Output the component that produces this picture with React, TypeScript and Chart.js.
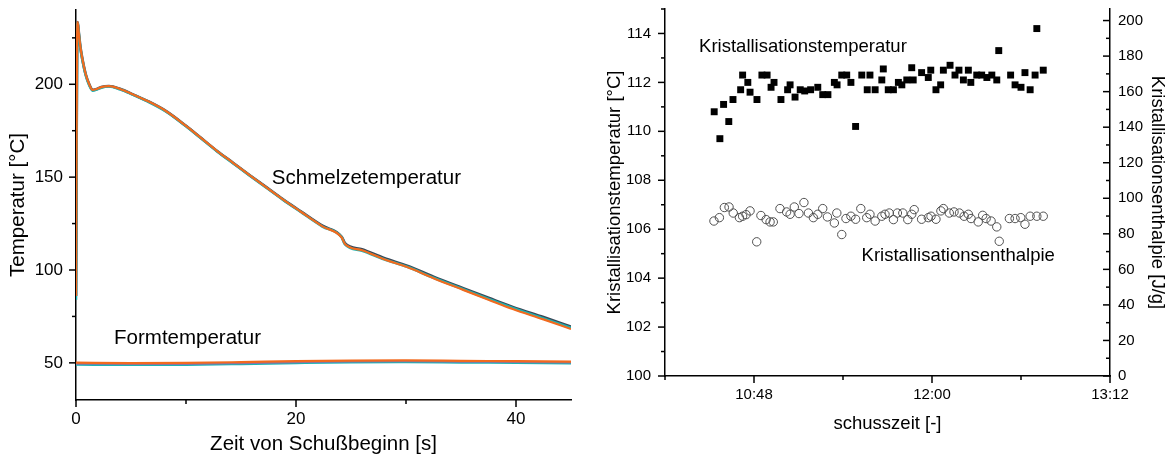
import React, { useEffect, useRef } from 'react';
import { Chart, registerables } from 'chart.js';

Chart.register(...registerables);

const FONT = '"Liberation Sans", Arial, Helvetica, sans-serif';

// ---------- Left chart: temperature curves ----------
const meltTimes = [0, 0.04, 0.1, 0.15, 0.25, 0.4, 0.6, 0.9, 1.2, 1.5, 1.8, 2.3, 3.0, 4.0, 5.2, 6.5, 8.2, 10.0, 11.3, 12.8, 14.3, 15.8, 17.3, 18.8, 20.4, 22.4, 24.15, 24.45, 26, 28, 30.1, 32.5, 35.2, 37.5, 39.7, 42.5, 45];
const meltOrange = [86, 150, 225, 233.5, 228, 220, 213, 205, 200, 197, 197.3, 198.5, 199, 197.5, 194.5, 191, 185.5, 177.6, 171.4, 164.2, 157.6, 151, 144.5, 138, 131.5, 123.5, 117.5, 114, 110.6, 105.8, 101.6, 95.6, 89.3, 84, 79, 73.4, 68.2];
const meltDark = [86, 150, 225, 233.5, 228, 220, 213, 205, 200, 197, 197.3, 198.5, 199, 197.5, 194.5, 191, 185.5, 177.6, 171.4, 164.2, 157.6, 151, 144.6, 138.1, 131.7, 123.8, 117.9, 114.4, 111.1, 106.4, 102.3, 96.4, 90.2, 85, 80.1, 74.6, 69.5];
const meltTeal = [84, 148, 224, 233, 227.5, 219.5, 212.5, 204.5, 199.5, 196.6, 197, 198.2, 198.8, 197.3, 194.3, 190.8, 185.3, 177.4, 171.2, 164.0, 157.4, 150.8, 144.3, 137.9, 131.4, 123.4, 117.6, 113.8, 110.4, 105.8, 101.7, 95.8, 89.6, 84.4, 79.5, 73.9, 68.8];

const formTimes = [0, 5, 10, 15, 20, 25, 30, 35, 40, 45];
const formOrange = [50.1, 49.9, 50.0, 50.4, 50.9, 51.2, 51.3, 51.1, 50.9, 50.7];
const formPurple = [49.6, 49.4, 49.5, 49.9, 50.4, 50.8, 50.9, 50.7, 50.5, 50.3];
const formTeal = [49.1, 48.9, 49.0, 49.4, 49.9, 50.3, 50.4, 50.2, 50.0, 49.8];

const leftXMajor = [0, 20, 40];
const leftXMinor = [10, 30];
const leftYMajor = [50, 100, 150, 200];
const leftYMinor = [75, 125, 175, 225];

const leftLabelTexts = ['Schmelzetemperatur', 'Formtemperatur'];
const leftLabelX = [26.4, 10.14];
const leftLabelY = [146.2, 60.2];

// ---------- Right chart: crystallisation per shot ----------
// shot times in minutes after midnight
const tempShotMin = [631.9, 634.2, 635.7, 637.8, 639.5, 642.6, 643.4, 645.5, 646.4, 649.2, 651.2, 653.3, 654.9, 656.1, 658.9, 661.6, 662.6, 664.6, 666.7, 668.5, 670.9, 673.8, 675.8, 677.9, 680.5, 681.6, 683.5, 685.5, 687.2, 689.1, 691.6, 693.8, 694.9, 697.0, 699.7, 700.3, 702.3, 704.4, 706.4, 707.8, 709.8, 711.8, 712.4, 715.8, 718.5, 719.5, 721.6, 723.5, 724.6, 727.3, 729.3, 730.9, 732.7, 734.7, 735.7, 738.1, 740.1, 742.2, 744.2, 746.2, 747.0, 751.8, 753.6, 756.0, 757.6, 759.7, 761.7, 762.4, 765.0];
const crystTemp = [110.8, 109.7, 111.1, 110.4, 111.3, 111.7, 112.3, 112.0, 111.6, 111.3, 112.3, 112.3, 111.8, 112.0, 111.3, 111.7, 111.9, 111.4, 111.7, 111.65, 111.7, 111.8, 111.5, 111.5, 112.0, 111.9, 112.3, 112.3, 112.0, 110.2, 112.3, 111.7, 112.3, 111.7, 112.1, 112.55, 111.7, 111.7, 112.0, 111.9, 112.1, 112.6, 112.1, 112.4, 112.2, 112.5, 111.7, 111.9, 112.5, 112.7, 112.3, 112.5, 112.1, 112.5, 112.0, 112.3, 112.3, 112.2, 112.3, 112.1, 113.3, 112.3, 111.9, 111.8, 112.4, 111.7, 112.3, 114.2, 112.5];

const enthShotMin = [631.8, 634.0, 636.0, 637.9, 639.6, 642.1, 643.4, 644.8, 646.4, 649.1, 650.8, 652.9, 654.5, 655.8, 658.5, 661.2, 662.6, 664.3, 666.2, 668.2, 670.0, 672.0, 673.8, 675.8, 677.7, 680.5, 681.5, 683.5, 685.2, 687.2, 689.1, 691.2, 693.6, 694.9, 697.0, 699.7, 701.0, 702.7, 704.4, 706.0, 708.2, 710.2, 711.8, 712.8, 715.8, 718.5, 719.6, 721.6, 723.6, 724.6, 727.0, 728.9, 731.1, 733.0, 734.7, 735.8, 738.7, 740.5, 741.9, 743.9, 746.2, 747.2, 751.3, 753.6, 755.9, 757.6, 759.7, 762.4, 765.0];
const crystEnth = [87.2, 89.1, 94.8, 95.1, 91.7, 89.1, 89.9, 90.8, 92.9, 75.5, 90.3, 88.0, 86.7, 86.7, 94.2, 92.3, 91.0, 95.1, 91.4, 97.6, 91.7, 89.1, 91.0, 94.2, 89.5, 86.1, 91.7, 79.6, 88.6, 89.9, 88.2, 94.2, 89.1, 91.0, 87.2, 89.9, 91.0, 91.7, 88.0, 91.7, 91.7, 88.0, 91.0, 93.6, 88.2, 89.1, 89.9, 88.2, 92.9, 94.2, 91.7, 92.3, 91.7, 89.9, 91.0, 88.6, 86.7, 90.4, 88.6, 87.2, 83.9, 75.8, 88.6, 88.6, 89.1, 85.4, 89.9, 89.9, 89.9];

const rightXMajor = [648, 720, 792];
const rightXMinor = [612, 684, 756];
const rightYMajor = [100, 102, 104, 106, 108, 110, 112, 114];
const rightYMinor = [101, 103, 105, 107, 109, 111, 113, 115];
const rightY1Major = [0, 20, 40, 60, 80, 100, 120, 140, 160, 180, 200];
const rightY1Minor = [10, 30, 50, 70, 90, 110, 130, 150, 170, 190];

const rightLabelTexts = ['Kristallisationstemperatur', 'Kristallisationsenthalpie'];
const rightLabelX = [667.8, 730.6];
const rightLabelY = [113.25, 104.71];

// ---------- helpers ----------
type TickSpec = { major: number[]; minor: number[]; majorLen: number; minorLen: number; inward?: boolean };

function tickMarksPlugin(specs: Record<string, TickSpec>) {
  return {
    id: 'tickMarks',
    afterDraw(chart: any) {
      const ctx = chart.ctx as CanvasRenderingContext2D;
      ctx.save();
      ctx.strokeStyle = '#000';
      ctx.lineWidth = 1.5;
      for (const id of Object.keys(specs)) {
        const s = chart.scales[id];
        const spec = specs[id];
        const draw = (v: number, len: number) => {
          const p = s.getPixelForValue(v);
          ctx.beginPath();
          if (s.isHorizontal()) {
            ctx.moveTo(p, s.top);
            ctx.lineTo(p, s.top + len);
          } else if (s.position === 'left') {
            ctx.moveTo(s.right, p);
            ctx.lineTo(s.right - len, p);
          } else {
            const dir = spec.inward ? -1 : 1;
            ctx.moveTo(s.left, p);
            ctx.lineTo(s.left + dir * len, p);
          }
          ctx.stroke();
        };
        spec.major.forEach((v) => draw(v, spec.majorLen));
        spec.minor.forEach((v) => draw(v, spec.minorLen));
      }
      ctx.restore();
    },
  };
}

function textLabelsPlugin(texts: string[], xs: number[], ys: number[], xAxis: string, yAxis: string, font: string) {
  return {
    id: 'textLabels',
    afterDatasetsDraw(chart: any) {
      const ctx = chart.ctx as CanvasRenderingContext2D;
      const sx = chart.scales[xAxis];
      const sy = chart.scales[yAxis];
      ctx.save();
      ctx.font = font;
      ctx.fillStyle = '#000';
      ctx.textAlign = 'center';
      ctx.textBaseline = 'alphabetic';
      texts.forEach((t, i) => {
        ctx.fillText(t, sx.getPixelForValue(xs[i]), sy.getPixelForValue(ys[i]));
      });
      ctx.restore();
    },
  };
}

const pts = (xs: number[], ys: number[]) => xs.map((x, i) => ({ x, y: ys[i] }));

const setTicks = (vals: number[]) => (scale: any) => {
  scale.ticks = vals.map((v) => ({ value: v }));
};

const fitSize = (size: number) => (s: any) => {
  if (s.isHorizontal()) s.height = size;
  else s.width = size;
  s.paddingTop = 0;
  s.paddingBottom = 0;
  s.paddingLeft = 0;
  s.paddingRight = 0;
};

const hiddenGrid = { display: true, drawOnChartArea: false, drawTicks: false, color: 'rgba(0,0,0,0)' };
const axisBorder = { display: true, color: '#000', width: 1.5 };

const ORANGE = '#f26a1e';
const DARK = '#3a4858';
const TEAL = '#1ab4b4';
const PURPLE = '#8a72a8';

function lineDs(xs: number[], ys: number[], color: string, width: number) {
  return {
    data: pts(xs, ys),
    borderColor: color,
    backgroundColor: color,
    borderWidth: width,
    pointRadius: 0,
    fill: false,
    cubicInterpolationMode: 'monotone' as const,
    showLine: true,
  };
}

function LeftChart() {
  const ref = useRef<HTMLCanvasElement>(null);
  useEffect(() => {
    const chart = new Chart(ref.current as HTMLCanvasElement, {
      type: 'line',
      data: {
        datasets: [
          lineDs(meltTimes, meltOrange, ORANGE, 2.2),
          lineDs(formTimes, formOrange, ORANGE, 2.2),
          lineDs(formTimes, formPurple, PURPLE, 2.2),
          lineDs(meltTimes, meltTeal, TEAL, 2.6),
          lineDs(formTimes, formTeal, TEAL, 2.4),
          lineDs(meltTimes, meltDark, DARK, 2.8),
        ],
      },
      options: {
        responsive: false,
        animation: false,
        events: [],
        layout: { padding: { top: 10, right: 14, left: 0, bottom: 0 } },
        plugins: { legend: { display: false }, tooltip: { enabled: false } },
        scales: {
          x: {
            type: 'linear',
            min: 0,
            max: 45,
            afterBuildTicks: setTicks(leftXMajor),
            afterFit: fitSize(63),
            grid: hiddenGrid,
            border: axisBorder,
            ticks: { padding: 9, autoSkip: false, maxRotation: 0, color: '#000', font: { size: 17, family: FONT } },
            title: { display: true, text: 'Zeit von Schußbeginn [s]', color: '#000', font: { size: 20.5, family: FONT }, padding: { top: 0, bottom: 6 } },
          },
          y: {
            type: 'linear',
            min: 30,
            max: 240,
            afterBuildTicks: setTicks(leftYMajor),
            afterFit: fitSize(76),
            grid: hiddenGrid,
            border: axisBorder,
            ticks: { padding: 13, autoSkip: false, color: '#000', font: { size: 17, family: FONT } },
            title: { display: true, text: 'Temperatur [°C]', color: '#000', font: { size: 20.5, family: FONT }, padding: { top: 6, bottom: 0 } },
          },
        },
      },
      plugins: [
        tickMarksPlugin({
          x: { major: leftXMajor, minor: leftXMinor, majorLen: 7, minorLen: 4 },
          y: { major: leftYMajor, minor: leftYMinor, majorLen: 7, minorLen: 4 },
        }),
        textLabelsPlugin(leftLabelTexts, leftLabelX, leftLabelY, 'x', 'y', `20.5px ${FONT}`),
      ],
    } as any);
    return () => chart.destroy();
  }, []);
  return <canvas ref={ref} width={585} height={463} style={{ position: 'absolute', left: 0, top: 0, width: 585, height: 463 }} />;
}

const fmtTime = (v: number) => {
  const h = Math.floor(v / 60);
  const m = Math.round(v - h * 60);
  return `${h}:${String(m).padStart(2, '0')}`;
};

function RightChart() {
  const ref = useRef<HTMLCanvasElement>(null);
  useEffect(() => {
    const chart = new Chart(ref.current as HTMLCanvasElement, {
      type: 'scatter',
      data: {
        datasets: [
          {
            data: pts(tempShotMin, crystTemp),
            yAxisID: 'y',
            pointStyle: 'rect',
            pointRadius: 4.9,
            backgroundColor: '#000',
            borderColor: '#000',
            borderWidth: 0,
          },
          {
            data: pts(enthShotMin, crystEnth),
            yAxisID: 'y1',
            pointStyle: 'circle',
            pointRadius: 4.2,
            backgroundColor: 'rgba(255,255,255,0)',
            borderColor: '#505050',
            borderWidth: 1,
          },
        ],
      },
      options: {
        responsive: false,
        animation: false,
        events: [],
        layout: { padding: { top: 9, right: 0, left: 0, bottom: 0 } },
        plugins: { legend: { display: false }, tooltip: { enabled: false } },
        scales: {
          x: {
            type: 'linear',
            min: 612,
            max: 792,
            afterBuildTicks: setTicks(rightXMajor),
            afterFit: fitSize(87),
            grid: hiddenGrid,
            border: axisBorder,
            ticks: { padding: 10, autoSkip: false, maxRotation: 0, color: '#000', font: { size: 15, family: FONT }, callback: (v: any) => fmtTime(Number(v)) },
            title: { display: true, text: 'schusszeit [-]', color: '#000', font: { size: 18.5, family: FONT }, padding: { top: 0, bottom: 28 } },
          },
          y: {
            type: 'linear',
            position: 'left',
            min: 100,
            max: 115,
            afterBuildTicks: setTicks(rightYMajor),
            afterFit: fitSize(80),
            grid: hiddenGrid,
            border: axisBorder,
            ticks: { padding: 14, autoSkip: false, color: '#000', font: { size: 15, family: FONT } },
            title: { display: true, text: 'Kristallisationstemperatur [°C]', color: '#000', font: { size: 18.5, family: FONT }, padding: { top: 19, bottom: 0 } },
          },
          y1: {
            type: 'linear',
            position: 'right',
            min: 0,
            max: 206.5,
            afterBuildTicks: setTicks(rightY1Major),
            afterFit: fitSize(58),
            grid: hiddenGrid,
            border: axisBorder,
            ticks: { padding: 8, autoSkip: false, color: '#000', font: { size: 15, family: FONT } },
            title: { display: true, text: 'Kristallisationsenthalpie [J/g]', color: '#000', font: { size: 18.5, family: FONT }, padding: { top: 0, bottom: 0 } },
          },
        },
      },
      plugins: [
        tickMarksPlugin({
          x: { major: rightXMajor, minor: rightXMinor, majorLen: 7, minorLen: 4 },
          y: { major: rightYMajor, minor: rightYMinor, majorLen: 7, minorLen: 4 },
          y1: { major: rightY1Major, minor: rightY1Minor, majorLen: 7, minorLen: 4, inward: true },
        }),
        textLabelsPlugin(rightLabelTexts, rightLabelX, rightLabelY, 'x', 'y', `18.5px ${FONT}`),
      ],
    } as any);
    return () => chart.destroy();
  }, []);
  return <canvas ref={ref} width={583} height={463} style={{ position: 'absolute', left: 585, top: 0, width: 583, height: 463 }} />;
}

export default function App() {
  return (
    <div style={{ position: 'fixed', left: 0, top: 0, width: 1168, height: 463, background: '#fff', overflow: 'hidden' }}>
      <LeftChart />
      <RightChart />
    </div>
  );
}
